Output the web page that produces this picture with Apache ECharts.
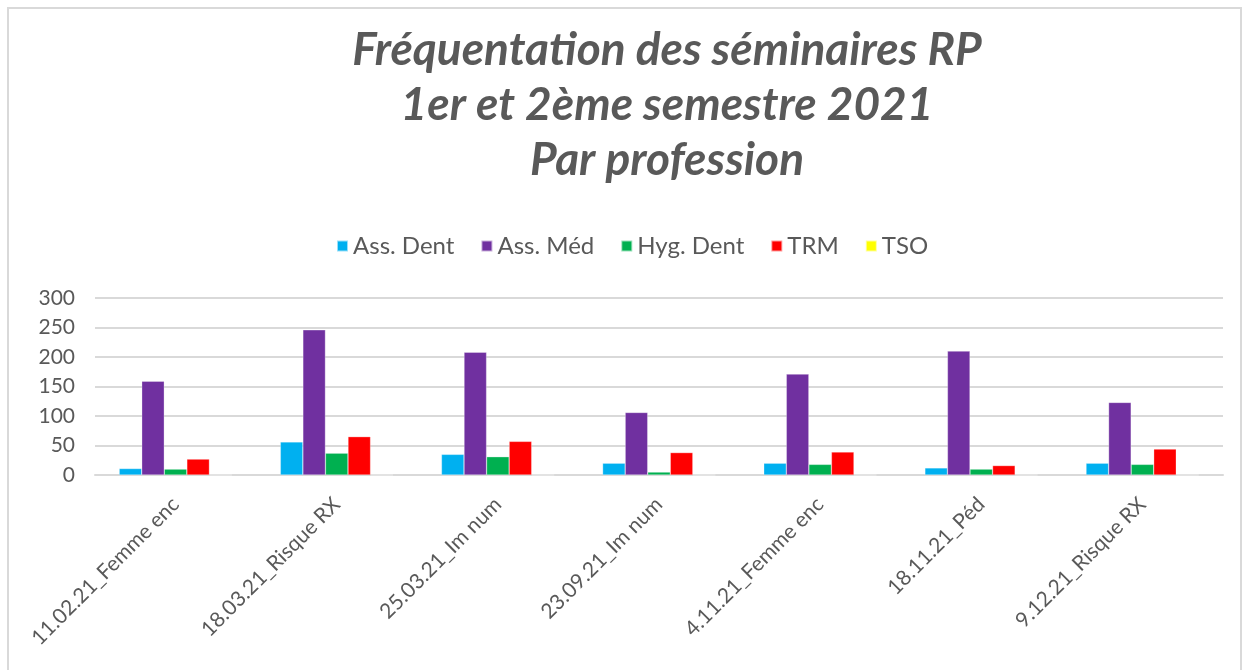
<!DOCTYPE html>
<html>
<head>
<meta charset="utf-8">
<script src="https://cdn.jsdelivr.net/npm/echarts@6/dist/echarts.min.js"></script>
<style>
  html, body { margin: 0; padding: 0; background: #fff; }
  #chart { width: 1250px; height: 670px; }
</style>
</head>
<body>
<div id="chart"></div>
<script>
// catégories (séminaires)
var categories = ["11.02.21_Femme enc", "18.03.21_Risque RX", "25.03.21_Im num", "23.09.21_Im num",
    "4.11.21_Femme enc", "18.11.21_Péd", "9.12.21_Risque RX"];

// valeurs par profession
var assDent = [11, 56, 35, 20, 20, 12, 20];
var assMed = [159, 246, 208, 106, 171, 210, 123];
var hygDent = [10, 37, 31, 5, 18, 10, 18];
var trm = [27, 65, 57, 38, 39, 16, 44];
var tso = [0, 0, 0, 0, 0, 0, 0];

var yTicks = [0, 50, 100, 150, 200, 250, 300];

var seriesNames = ["Ass. Dent", "Ass. Méd", "Hyg. Dent", "TRM", "TSO"];
var seriesData = [assDent, assMed, hygDent, trm, tso];
var colors = ["#00B0F0", "#7030A0", "#00B050", "#FF0000", "#FFFF00"];

var chart = echarts.init(document.getElementById('chart'));
var font = "Lato, 'Open Sans', sans-serif";

var series = [];
for (var i = 0; i < seriesNames.length; ++i) {
    series.push({
        name: seriesNames[i],
        type: 'bar',
        data: seriesData[i],
        barGap: '0%',
        barCategoryGap: '30%',
        itemStyle: { color: colors[i], borderColor: 'rgba(255,255,255,0.6)', borderWidth: 0.5 }
    });
}

var option = {
    backgroundColor: '#fff',
    animation: false,
    graphic: [{
        type: 'rect',
        shape: { x: 8, y: 8, width: 1233, height: 700 },
        style: { fill: 'none', stroke: '#d9d9d9', lineWidth: 2 }
    }, {
        // titre centré un peu à droite, comme dans Excel
        type: 'text',
        x: 667,
        y: 23,
        style: {
            text: 'Fréquentation des séminaires RP\n1er et 2ème semestre 2021\nPar profession',
            textAlign: 'center',
            textVerticalAlign: 'top',
            fontFamily: font,
            fontSize: 46,
            fontStyle: 'italic',
            fontWeight: 'bold',
            fill: '#595959',
            lineHeight: 55
        }
    }],
    legend: {
        top: 229,
        left: 331,
        itemWidth: 11,
        itemHeight: 11,
        itemGap: 26,
        icon: 'rect',
        textStyle: { fontFamily: font, fontSize: 24, color: '#595959' },
        data: seriesNames
    },
    grid: {
        left: 95,
        right: 27,
        top: 298,
        bottom: 195,
        containLabel: false
    },
    xAxis: {
        type: 'category',
        data: categories,
        axisTick: { show: false },
        axisLine: { lineStyle: { color: '#d9d9d9', width: 2 } },
        axisLabel: {
            rotate: 45,
            margin: 26,
            fontFamily: font,
            fontSize: 21,
            color: '#595959',
            interval: 0
        }
    },
    yAxis: {
        type: 'value',
        min: yTicks[0],
        max: yTicks[yTicks.length - 1],
        interval: 50,
        axisLine: { show: false },
        axisTick: { show: false },
        splitLine: { lineStyle: { color: '#d9d9d9', width: 2 } },
        axisLabel: {
            margin: 20,
            fontFamily: font,
            fontSize: 21,
            color: '#595959'
        }
    },
    series: series
};

chart.setOption(option);
</script>
</body>
</html>
